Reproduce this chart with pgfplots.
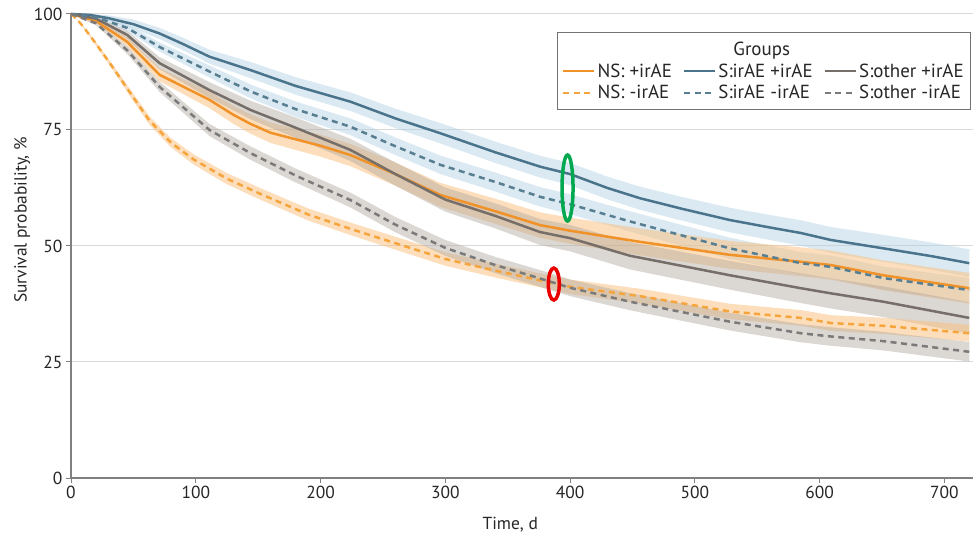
\documentclass[border=0pt]{standalone}
\usepackage{pgfplots}
\pgfplotsset{compat=1.18}
\usepackage{pgfplotstable}
\usepgfplotslibrary{fillbetween}
\usepackage{fontspec}
\setmainfont{PT Sans}

\definecolor{orS}{RGB}{240,146,40}
\definecolor{orD}{RGB}{245,165,60}
\definecolor{blS}{RGB}{74,115,140}
\definecolor{blD}{RGB}{88,126,146}
\definecolor{grS}{RGB}{118,110,104}
\definecolor{grD}{RGB}{122,122,122}
\definecolor{orB}{RGB}{250,190,122}
\definecolor{blB}{RGB}{176,208,226}
\definecolor{grB}{RGB}{176,166,156}
\definecolor{annG}{RGB}{0,168,80}
\definecolor{annR}{RGB}{235,0,0}

% S:irAE +irAE
\pgfplotstableread{
t y lo hi
0 100 100 100
15 99.8 99.5 100
30 99.1 98.5 99.7
50 97.8 96.8 98.8
71 95.8 94.6 97.0
90 93.5 92.15 94.85
111 90.8 89.3 92.3
144 87.9 86.15 89.65
180 84.5 82.6 86.4
224 81.1 79.1 83.1
260 77.5 75.4 79.6
296 74.3 72.1 76.5
340 70.2 67.9 72.5
376 67.1 64.75 69.45
400 65.5 63.1 67.9
430 62.5 60.05 64.95
456 60.3 57.8 62.8
490 58.0 55.45 60.55
528 55.6 52.95 58.25
560 54.0 51.3 56.7
585 52.8 50.05 55.55
609 51.3 48.5 54.1
651 49.5 46.6 52.4
690 47.8 44.85 50.75
720 46.3 43.3 49.3
}\blSt

% S:irAE -irAE
\pgfplotstableread{
t y lo hi
0 100 100 100
20 99.3 99.0 99.6
45 97.0 96.3 97.7
71 92.9 91.9 93.9
111 87.6 86.3 88.9
144 83.3 81.8 84.8
180 79.5 77.85 81.15
224 75.7 73.9 77.5
260 71.5 69.6 73.4
296 67.5 65.5 69.5
340 63.8 61.75 65.85
376 60.6 58.5 62.7
400 59.0 56.85 61.15
448 55.3 53.1 57.5
528 49.5 47.2 51.8
585 46.3 43.9 48.7
609 45.5 43.05 47.95
651 43.1 40.6 45.6
720 40.5 37.9 43.1
}\blDt

% S:other +irAE
\pgfplotstableread{
t y lo hi
0 100 100 100
20 99.0 98.6 99.4
45 95.5 94.6 96.4
71 89.4 88.1 90.7
111 83.6 81.9 85.3
144 79.3 77.3 81.3
180 75.5 73.3 77.7
224 70.7 68.3 73.1
260 65.5 63.0 68.0
300 60.0 57.4 62.6
340 56.5 53.8 59.2
376 53.0 50.2 55.8
400 51.7 48.85 54.55
448 47.9 44.95 50.85
528 43.7 40.6 46.8
585 40.9 37.7 44.1
609 39.8 36.55 43.05
651 38.0 34.7 41.3
720 34.5 31.1 37.9
}\grSt

% NS: +irAE
\pgfplotstableread{
t y lo hi
0 100 100 100
20 98.5 98.1 98.9
45 94.0 93.0 95.0
71 86.9 85.5 88.3
111 81.5 79.7 83.3
130 78.3 76.35 80.25
144 76.3 74.2 78.4
160 74.4 72.2 76.6
180 73.0 70.7 75.3
200 71.6 69.25 73.95
224 69.6 67.2 72.0
260 65.5 63.0 68.0
296 61.0 58.4 63.6
340 57.5 54.8 60.2
376 54.5 51.75 57.25
400 53.3 50.5 56.1
456 50.9 48.0 53.8
528 48.1 45.1 51.1
585 46.6 43.5 49.7
609 45.9 42.75 49.05
651 43.7 40.5 46.9
720 40.9 37.6 44.2
}\orSt

% NS: -irAE
\pgfplotstableread{
t y lo hi
0 100 100 100
5 98.8 98.7 98.9
10 97.2 97.0 97.4
20 93.6 93.2 94.0
34 88.3 87.7 88.9
50 82.0 81.2 82.8
63 77.0 76.1 77.9
80 72.3 71.3 73.3
98 68.7 67.6 69.8
125 64.5 63.3 65.7
152 61.2 59.95 62.45
190 56.8 55.5 58.1
224 53.7 52.35 55.05
260 50.6 49.2 52.0
300 47.2 45.75 48.65
340 44.7 43.2 46.2
376 42.6 41.1 44.1
400 41.2 39.65 42.75
456 39.2 37.6 40.8
528 35.9 34.25 37.55
585 34.5 32.8 36.2
609 33.4 31.7 35.1
651 32.8 31.05 34.55
720 31.2 29.4 33.0
}\orDt

% S:other -irAE
\pgfplotstableread{
t y lo hi
0 100 100 100
20 98.0 97.6 98.4
45 92.2 91.4 93.0
71 84.3 83.2 85.4
111 75.0 73.7 76.3
144 70.0 68.55 71.45
180 65.2 63.7 66.7
224 59.9 58.3 61.5
260 54.6 52.95 56.25
300 49.6 47.9 51.3
340 45.9 44.15 47.65
376 43.0 41.2 44.8
400 41.0 39.2 42.8
448 38.0 36.15 39.85
528 33.7 31.8 35.6
585 31.2 29.25 33.15
609 30.5 28.5 32.5
651 29.5 27.5 31.5
720 27.2 25.1 29.3
}\grDt

\newcommand{\fs}{\fontsize{17.5}{21}\selectfont}
\newcommand{\fl}{\fontsize{19}{22}\selectfont}

\begin{document}
\begin{tikzpicture}
\begin{axis}[
  scale only axis, width=902bp, height=464bp,
  xmin=0, xmax=723, ymin=0, ymax=100,
  axis lines=left, axis line style={-, draw=black!50, line width=1.2bp},
  clip=false,
  xtick={0,100,...,700}, ytick={0,25,50,75,100},
  tick align=outside, major tick length=5bp,
  tick style={draw=black!50, line width=1bp},
  ymajorgrids, grid style={draw=black!15, line width=1bp},
  /pgf/number format/assume math mode=true,
  tick label style={font=\fs, text=black!85},
  label style={font=\fs, text=black!85},
  xlabel={Time, d}, ylabel={Survival probability, \%},
  xlabel style={at={(axis description cs:0.487,-0.101)}, anchor=center},
  ylabel style={at={(axis description cs:-0.054,0.556)}, anchor=center},
  legend columns=3,
  legend cell align=left,
  legend style={at={(rel axis cs:0.998,0.961)}, anchor=north east,
    draw=black!55, line width=1bp, font=\fl, text=black!85,
    inner xsep=5bp, inner ysep=7bp, row sep=3bp,
    /tikz/every even column/.append style={column sep=9bp}},
  legend image code/.code={\draw[#1] (0bp,0bp) -- (31bp,0bp);},
]
% confidence bands
\addplot[draw=none, name path=blSu, forget plot] table[x=t,y=hi]{\blSt};
\addplot[draw=none, name path=blSl, forget plot] table[x=t,y=lo]{\blSt};
\addplot[fill=blB, fill opacity=0.45, draw=none, forget plot] fill between[of=blSu and blSl];
\addplot[draw=none, name path=blDu, forget plot] table[x=t,y=hi]{\blDt};
\addplot[draw=none, name path=blDl, forget plot] table[x=t,y=lo]{\blDt};
\addplot[fill=blB, fill opacity=0.45, draw=none, forget plot] fill between[of=blDu and blDl];
\addplot[draw=none, name path=orSu, forget plot] table[x=t,y=hi]{\orSt};
\addplot[draw=none, name path=orSl, forget plot] table[x=t,y=lo]{\orSt};
\addplot[fill=orB, fill opacity=0.5, draw=none, forget plot] fill between[of=orSu and orSl];
\addplot[draw=none, name path=grSu, forget plot] table[x=t,y=hi]{\grSt};
\addplot[draw=none, name path=grSl, forget plot] table[x=t,y=lo]{\grSt};
\addplot[fill=grB, fill opacity=0.45, draw=none, forget plot] fill between[of=grSu and grSl];
\addplot[draw=none, name path=orDu, forget plot] table[x=t,y=hi]{\orDt};
\addplot[draw=none, name path=orDl, forget plot] table[x=t,y=lo]{\orDt};
\addplot[fill=orB, fill opacity=0.5, draw=none, forget plot] fill between[of=orDu and orDl];
\addplot[draw=none, name path=grDu, forget plot] table[x=t,y=hi]{\grDt};
\addplot[draw=none, name path=grDl, forget plot] table[x=t,y=lo]{\grDt};
\addplot[fill=grB, fill opacity=0.45, draw=none, forget plot] fill between[of=grDu and grDl];

% legend title row
\addlegendimage{empty legend}\addlegendentry{}
\addlegendimage{empty legend}\addlegendentry{\hspace*{15bp}Groups}
\addlegendimage{empty legend}\addlegendentry{}

% lines
\addplot[orS, line width=2.5bp] table[x=t,y=y]{\orSt};
\addlegendentry{NS: +irAE}
\addplot[blS, line width=2.5bp] table[x=t,y=y]{\blSt};
\addlegendentry{S:irAE +irAE}
\addplot[grS, line width=2.5bp] table[x=t,y=y]{\grSt};
\addlegendentry{S:other +irAE}
\addplot[orD, line width=2.5bp, dash pattern=on 6bp off 4.5bp] table[x=t,y=y]{\orDt};
\addlegendentry{NS: -irAE}
\addplot[blD, line width=2.5bp, dash pattern=on 6bp off 4.5bp] table[x=t,y=y]{\blDt};
\addlegendentry{S:irAE -irAE}
\addplot[grD, line width=2.5bp, dash pattern=on 6bp off 4.5bp] table[x=t,y=y]{\grDt};
\addlegendentry{S:other -irAE}

% highlight annotations
\draw[annG, line width=3.5bp] (axis cs:398,62.5) ellipse [x radius=5.5bp, y radius=33bp];
\draw[annR, line width=3.5bp] (axis cs:387,41.8) ellipse [x radius=5.5bp, y radius=16bp];
\end{axis}
\pgfresetboundingbox
\path[use as bounding box] ([shift={(-71bp,-62bp)}]current axis.south west) rectangle ([shift={(0bp,14bp)}]current axis.north east);
\end{tikzpicture}
\end{document}
